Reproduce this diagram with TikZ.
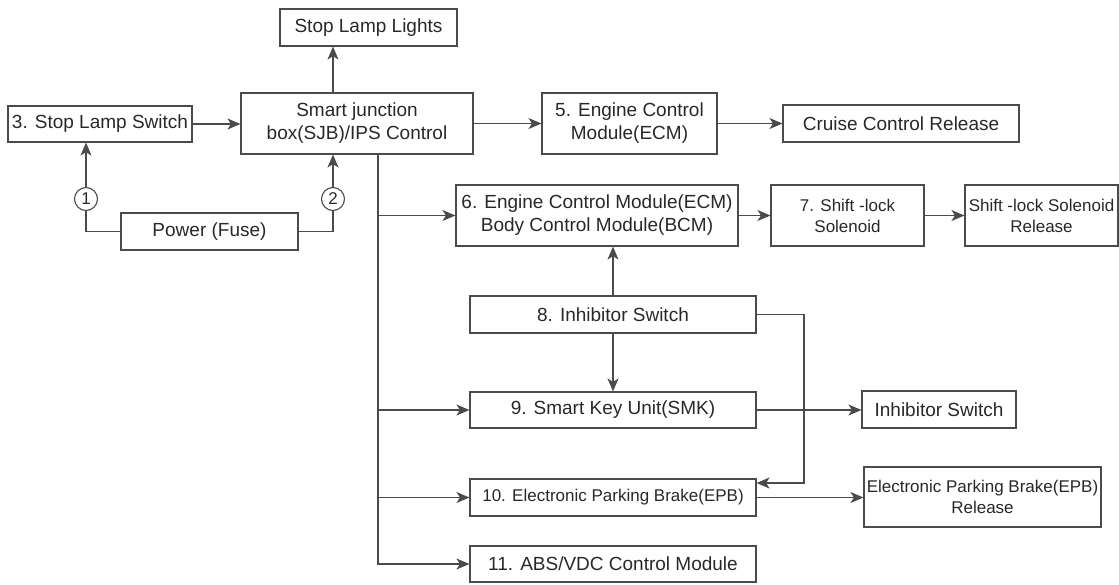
\documentclass[tikz,border=0pt]{standalone}
\usepackage{fontspec}
\setmainfont{Liberation Sans}
\usetikzlibrary{arrows.meta}
\definecolor{ln}{RGB}{75,75,75}
\definecolor{tx}{RGB}{40,40,40}
\tikzset{
  box/.style={draw=ln, line width=1.1pt, inner sep=0pt, align=center, text=tx,
    font=\fontsize{19}{23}\selectfont},
  smallbox/.style={box, font=\fontsize{17}{21}\selectfont},
  num/.style={circle, draw=ln, line width=1.1pt, inner sep=0pt, minimum size=23pt,
    text=tx, font=\fontsize{17}{17}\selectfont},
  conn/.style={draw=ln, line width=1.1pt},
  arr/.style={conn, -{Stealth[length=13pt,width=11pt,inset=3.5pt]}}
}
\begin{document}
\begin{tikzpicture}[x=1pt,y=-1pt]
\useasboundingbox (0,0) rectangle (1119,584);
% boxes
\node[box, minimum width=177pt, minimum height=37pt] (lights) at (368.5,27.5) {Stop Lamp Lights};
\node[box, minimum width=184pt, minimum height=36pt] (sw) at (100,124) {3. Stop Lamp Switch};
\node[box, minimum width=232pt, minimum height=61pt] (sjb) at (357,123.5) {Smart junction\\box(SJB)/IPS Control};
\node[box, minimum width=177pt, minimum height=37pt] (power) at (209.5,231.5) {Power (Fuse)};
\node[box, minimum width=175pt, minimum height=61pt] (ecm5) at (629.5,123.5) {5. Engine Control\\Module(ECM)};
\node[box, minimum width=236pt, minimum height=37pt] (cruise) at (901,123.5) {Cruise Control Release};
\node[box, minimum width=282pt, minimum height=61pt] (m6) at (597,215.5) {6. Engine Control Module(ECM)\\Body Control Module(BCM)};
\node[smallbox, minimum width=153pt, minimum height=61pt] (sl7) at (847.5,215.5) {7. Shift -lock\\Solenoid};
\node[smallbox, minimum width=153pt, minimum height=61pt] (slr) at (1041.5,215.5) {Shift -lock Solenoid\\Release};
\node[box, minimum width=286pt, minimum height=37pt] (inh8) at (613,314.5) {8. Inhibitor Switch};
\node[box, minimum width=286pt, minimum height=36pt] (smk9) at (613,410) {9. Smart Key Unit(SMK)};
\node[box, minimum width=154pt, minimum height=37pt] (inhsw) at (939,409.5) {Inhibitor Switch};
\node[smallbox, minimum width=286pt, minimum height=37pt] (epb10) at (613,497.5) {10. Electronic Parking Brake(EPB)};
\node[smallbox, minimum width=237pt, minimum height=60pt] (epbr) at (982.5,497) {Electronic Parking Brake(EPB)\\Release};
\node[box, minimum width=286pt, minimum height=36pt] (abs11) at (613,564) {11. ABS/VDC Control Module};
% numbered circles
\node[num] (c1) at (86,199) {1};
\node[num] (c2) at (333,199) {2};
% helper coordinates
\coordinate (bus) at (378,154);
\coordinate (jog) at (804,483);
% connectors
\draw[arr] (c2 |- sjb.north) -- (c2 |- lights.south);
\draw[arr] (sw.east) -- (sw.east -| sjb.west);
\draw[arr] (c1.north) -- (c1 |- sw.south);
\draw[conn] (power.west) -| (c1.south);
\draw[conn] (power.east) -| (c2.south);
\draw[arr] (c2.north) -- (c2 |- sjb.south);
\draw[arr] (sjb.east) -- (ecm5.west);
\draw[arr] (ecm5.east) -- (cruise.west);
\draw[arr] (bus) |- (abs11.west);
\draw[arr] (bus |- m6.west) -- (m6.west);
\draw[arr] (bus |- smk9.west) -- (smk9.west);
\draw[arr] (bus |- epb10.west) -- (epb10.west);
\draw[arr] (m6.east) -- (sl7.west);
\draw[arr] (sl7.east) -- (slr.west);
\draw[arr] (inh8.north) -- (inh8.north |- m6.south);
\draw[arr] (inh8.south) -- (smk9.north);
\draw[arr] (smk9.east) -- (smk9.east -| inhsw.west);
\draw[arr] (inh8.east) -| (jog) -- (jog -| epb10.east);
\draw[arr] (epb10.east) -- (epb10.east -| epbr.west);
\end{tikzpicture}
\end{document}
